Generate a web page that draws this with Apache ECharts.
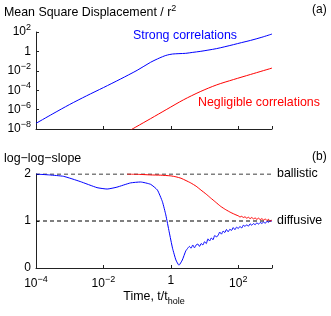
<!DOCTYPE html>
<html>
<head>
<meta charset="utf-8">
<script src="https://cdn.jsdelivr.net/npm/echarts@6/dist/echarts.min.js"></script>
<style>html,body{margin:0;padding:0;background:#fff}#c{width:331px;height:316px}</style>
</head>
<body>
<div id="c"></div>
<script>
// ---- Data (log10 of time t/t_hole) ----
// Panel (a): mean square displacement, log10 values
const strongMsdLogT = [-4, -3.5, -3, -2.5, -2, -1.5, -1, -0.6, -0.4, -0.25, -0.15, -0.05, 0.05, 0.24, 0.44, 0.65, 0.87, 1.1, 1.36, 1.6, 1.86, 2.1, 2.36, 2.7, 3.0];
const strongMsdLogY = [-7.42, -6.43, -5.47, -4.58, -3.73, -2.86, -1.95, -1.12, -0.78, -0.55, -0.42, -0.33, -0.27, -0.23, -0.2, -0.1, 0.0, 0.13, 0.29, 0.48, 0.7, 0.91, 1.13, 1.46, 1.79];
const weakMsdLogT = [-1.5, -1.04, -0.6, -0.12, 0.37, 0.87, 1.36, 1.86, 2.36, 3.0];
const weakMsdLogY = [-8.72, -7.8, -6.93, -5.97, -5.0, -4.15, -3.45, -2.9, -2.38, -1.72];

// Panel (b): log-log slope
const strongSlopeLogT = [-4, -3.6, -3.18, -2.69, -2.19, -1.89, -1.6, -1.2, -0.9, -0.6, -0.4, -0.25, -0.15, -0.05, 0.05, 0.15, 0.24, 0.34, 0.44, 0.5,
  0.55, 0.60, 0.65, 0.70, 0.75, 0.80, 0.85, 0.90, 0.95, 1.00, 1.05, 1.10, 1.15, 1.20, 1.25, 1.30, 1.35, 1.40, 1.45, 1.50,
  1.55, 1.60, 1.65, 1.70, 1.75, 1.80, 1.85, 1.90, 1.95, 2.00, 2.05, 2.10, 2.15, 2.20, 2.25, 2.30, 2.35, 2.40, 2.45, 2.50,
  2.55, 2.60, 2.65, 2.70, 2.75, 2.80, 2.85, 2.90, 2.95, 3.00];
const strongSlope = [2.0, 1.98, 1.95, 1.84, 1.71, 1.68, 1.72, 1.81, 1.83, 1.78, 1.66, 1.41, 1.13, 0.77, 0.42, 0.17, 0.06, 0.17, 0.36, 0.42,
  0.46, 0.42, 0.49, 0.43, 0.49, 0.51, 0.46, 0.52, 0.49, 0.56, 0.52, 0.62, 0.575, 0.64, 0.60, 0.69, 0.665, 0.69, 0.765, 0.72,
  0.785, 0.755, 0.82, 0.77, 0.825, 0.80, 0.86, 0.815, 0.87, 0.84, 0.885, 0.85, 0.91, 0.885, 0.92, 0.89, 0.94, 0.91, 0.945, 0.92,
  0.962, 0.933, 0.968, 0.948, 0.978, 0.95, 0.995, 0.972, 1.004, 0.993];
const weakSlopeLogT = [-1.3, -1.0, -0.6, -0.3, 0, 0.15, 0.3, 0.45, 0.59, 0.75, 0.89, 1.05, 1.18, 1.33, 1.48, 1.63, 1.78, 1.93,
  2.0, 2.05, 2.1, 2.15, 2.2, 2.25, 2.3, 2.35, 2.4, 2.45, 2.5, 2.55, 2.6, 2.65, 2.7, 2.75, 2.8, 2.85, 2.9, 2.95, 3.0];
const weakSlope = [2.0, 1.995, 1.98, 1.975, 1.96, 1.94, 1.91, 1.86, 1.81, 1.74, 1.66, 1.57, 1.49, 1.40, 1.31, 1.24, 1.18, 1.13,
  1.11, 1.085, 1.1, 1.075, 1.09, 1.06, 1.08, 1.05, 1.075, 1.045, 1.065, 1.035, 1.06, 1.03, 1.05, 1.02, 1.045, 1.01, 1.035, 1.0, 1.02];

const refLevels = [2, 1];           // ballistic, diffusive
const refNames = ['ballistic', 'diffusive'];
const tRange = [1e-4, 1e3];

// ---- helpers ----
const FONT = 'Liberation Sans, Arial, Helvetica, sans-serif';
const AX = '#222';
const pairsLogLog = (lx, ly) => lx.map((x, i) => [Math.pow(10, x), Math.pow(10, ly[i])]);
const pairsLogLin = (lx, y) => lx.map((x, i) => [Math.pow(10, x), y[i]]);
const pow10Label = v => {
  const e = Math.round(Math.log10(v));
  if (e % 2 !== 0) return '';
  if (e === 0) return '{b|1}';
  return '{b|10}{s|' + (e < 0 ? '\u2212' : '') + Math.abs(e) + '}';
};
const labelRich = {
  b: { fontSize: 12, fontFamily: FONT, color: '#000' },
  s: { fontSize: 9, fontFamily: FONT, color: '#000', padding: [0, 0, 9, 0] }
};
const axisCommon = {
  axisLine: { show: true, lineStyle: { color: AX, width: 1 } },
  axisTick: { show: true, inside: true, length: 3, lineStyle: { color: AX } },
  splitLine: { show: false },
  minorTick: { show: false }
};

const chart = echarts.init(document.getElementById('c'), null, { renderer: 'canvas' });
const option = {
  animation: false,
  backgroundColor: '#fff',
  grid: [
    { left: 36, top: 32, width: 236, height: 97 },
    { left: 36, top: 174, width: 236, height: 94 }
  ],
  xAxis: [
    Object.assign({ type: 'log', logBase: 100, gridIndex: 0, min: tRange[0], max: tRange[1],
      axisLabel: { show: false } }, axisCommon),
    Object.assign({ type: 'log', logBase: 100, gridIndex: 1, min: tRange[0], max: tRange[1],
      axisLabel: { formatter: pow10Label, rich: labelRich, margin: 7 },
      name: '{a|Time, t/t}{sub|hole}', nameLocation: 'middle', nameGap: 19,
      nameTextStyle: { rich: {
        a: { fontSize: 12.4, fontFamily: FONT, color: '#000' },
        sub: { fontSize: 9, fontFamily: FONT, color: '#000', padding: [9, 0, 0, 0] }
      } } }, axisCommon)
  ],
  yAxis: [
    Object.assign({ type: 'log', logBase: 100, gridIndex: 0, min: 1e-8, max: 1e2,
      axisLabel: { formatter: pow10Label, rich: labelRich, margin: 5 } }, axisCommon),
    Object.assign({ type: 'value', gridIndex: 1, min: 0, max: 2, interval: 1,
      axisLabel: { fontSize: 12, fontFamily: FONT, color: '#000', margin: 5 } }, axisCommon)
  ],
  series: [
    { name: 'Strong correlations', type: 'line', xAxisIndex: 0, yAxisIndex: 0, z: 3,
      data: pairsLogLog(strongMsdLogT, strongMsdLogY), showSymbol: false, smooth: 0.3,
      lineStyle: { color: '#0000ff', width: 1 } },
    { name: 'Negligible correlations', type: 'line', xAxisIndex: 0, yAxisIndex: 0, z: 3,
      data: pairsLogLog(weakMsdLogT, weakMsdLogY), showSymbol: false, smooth: 0.3,
      lineStyle: { color: '#ff0000', width: 1 } },
    ...refLevels.map((lv, i) => ({
      name: refNames[i], type: 'line', xAxisIndex: 1, yAxisIndex: 1, z: 1,
      data: [[tRange[0], lv], [tRange[1], lv]], showSymbol: false,
      lineStyle: { color: '#000', width: 1.2, type: [4, 3] }
    })),
    { name: 'slope strong', type: 'line', xAxisIndex: 1, yAxisIndex: 1, z: 3,
      data: pairsLogLin(strongSlopeLogT, strongSlope), showSymbol: false, smooth: 0.15,
      lineStyle: { color: '#0000ff', width: 1 } },
    { name: 'slope weak', type: 'line', xAxisIndex: 1, yAxisIndex: 1, z: 4,
      data: pairsLogLin(weakSlopeLogT, weakSlope), showSymbol: false, smooth: 0.15,
      lineStyle: { color: '#ff0000', width: 1 } }
  ],
  graphic: [
    { type: 'text', x: 4, y: 13, style: { text: '{m|Mean Square Displacement / r}{s|2}', textVerticalAlign: 'middle',
      rich: { m: { fontSize: 12.4, fontFamily: FONT, fill: '#000' }, s: { fontSize: 9, fontFamily: FONT, fill: '#000', padding: [0, 0, 9, 0] } } } },
    { type: 'text', x: 312, y: 10, style: { text: '(a)', font: '12px ' + FONT, fill: '#000', textVerticalAlign: 'middle' } },
    { type: 'text', x: 133, y: 36, style: { text: 'Strong correlations', font: '12.4px ' + FONT, fill: '#0000ff', textVerticalAlign: 'middle' } },
    { type: 'text', x: 198, y: 103, style: { text: 'Negligible correlations', font: '12.4px ' + FONT, fill: '#ff0000', textVerticalAlign: 'middle' } },
    { type: 'text', x: 4, y: 159, style: { text: 'log\u2212log\u2212slope', font: '12.4px ' + FONT, fill: '#000', textVerticalAlign: 'middle' } },
    { type: 'text', x: 312, y: 157, style: { text: '(b)', font: '12px ' + FONT, fill: '#000', textVerticalAlign: 'middle' } },
    { type: 'text', x: 277, y: 174, style: { text: 'ballistic', font: '12.4px ' + FONT, fill: '#000', textVerticalAlign: 'middle' } },
    { type: 'text', x: 277, y: 221, style: { text: 'diffusive', font: '12.4px ' + FONT, fill: '#000', textVerticalAlign: 'middle' } }
  ]
};
chart.setOption(option);
</script>
</body>
</html>
